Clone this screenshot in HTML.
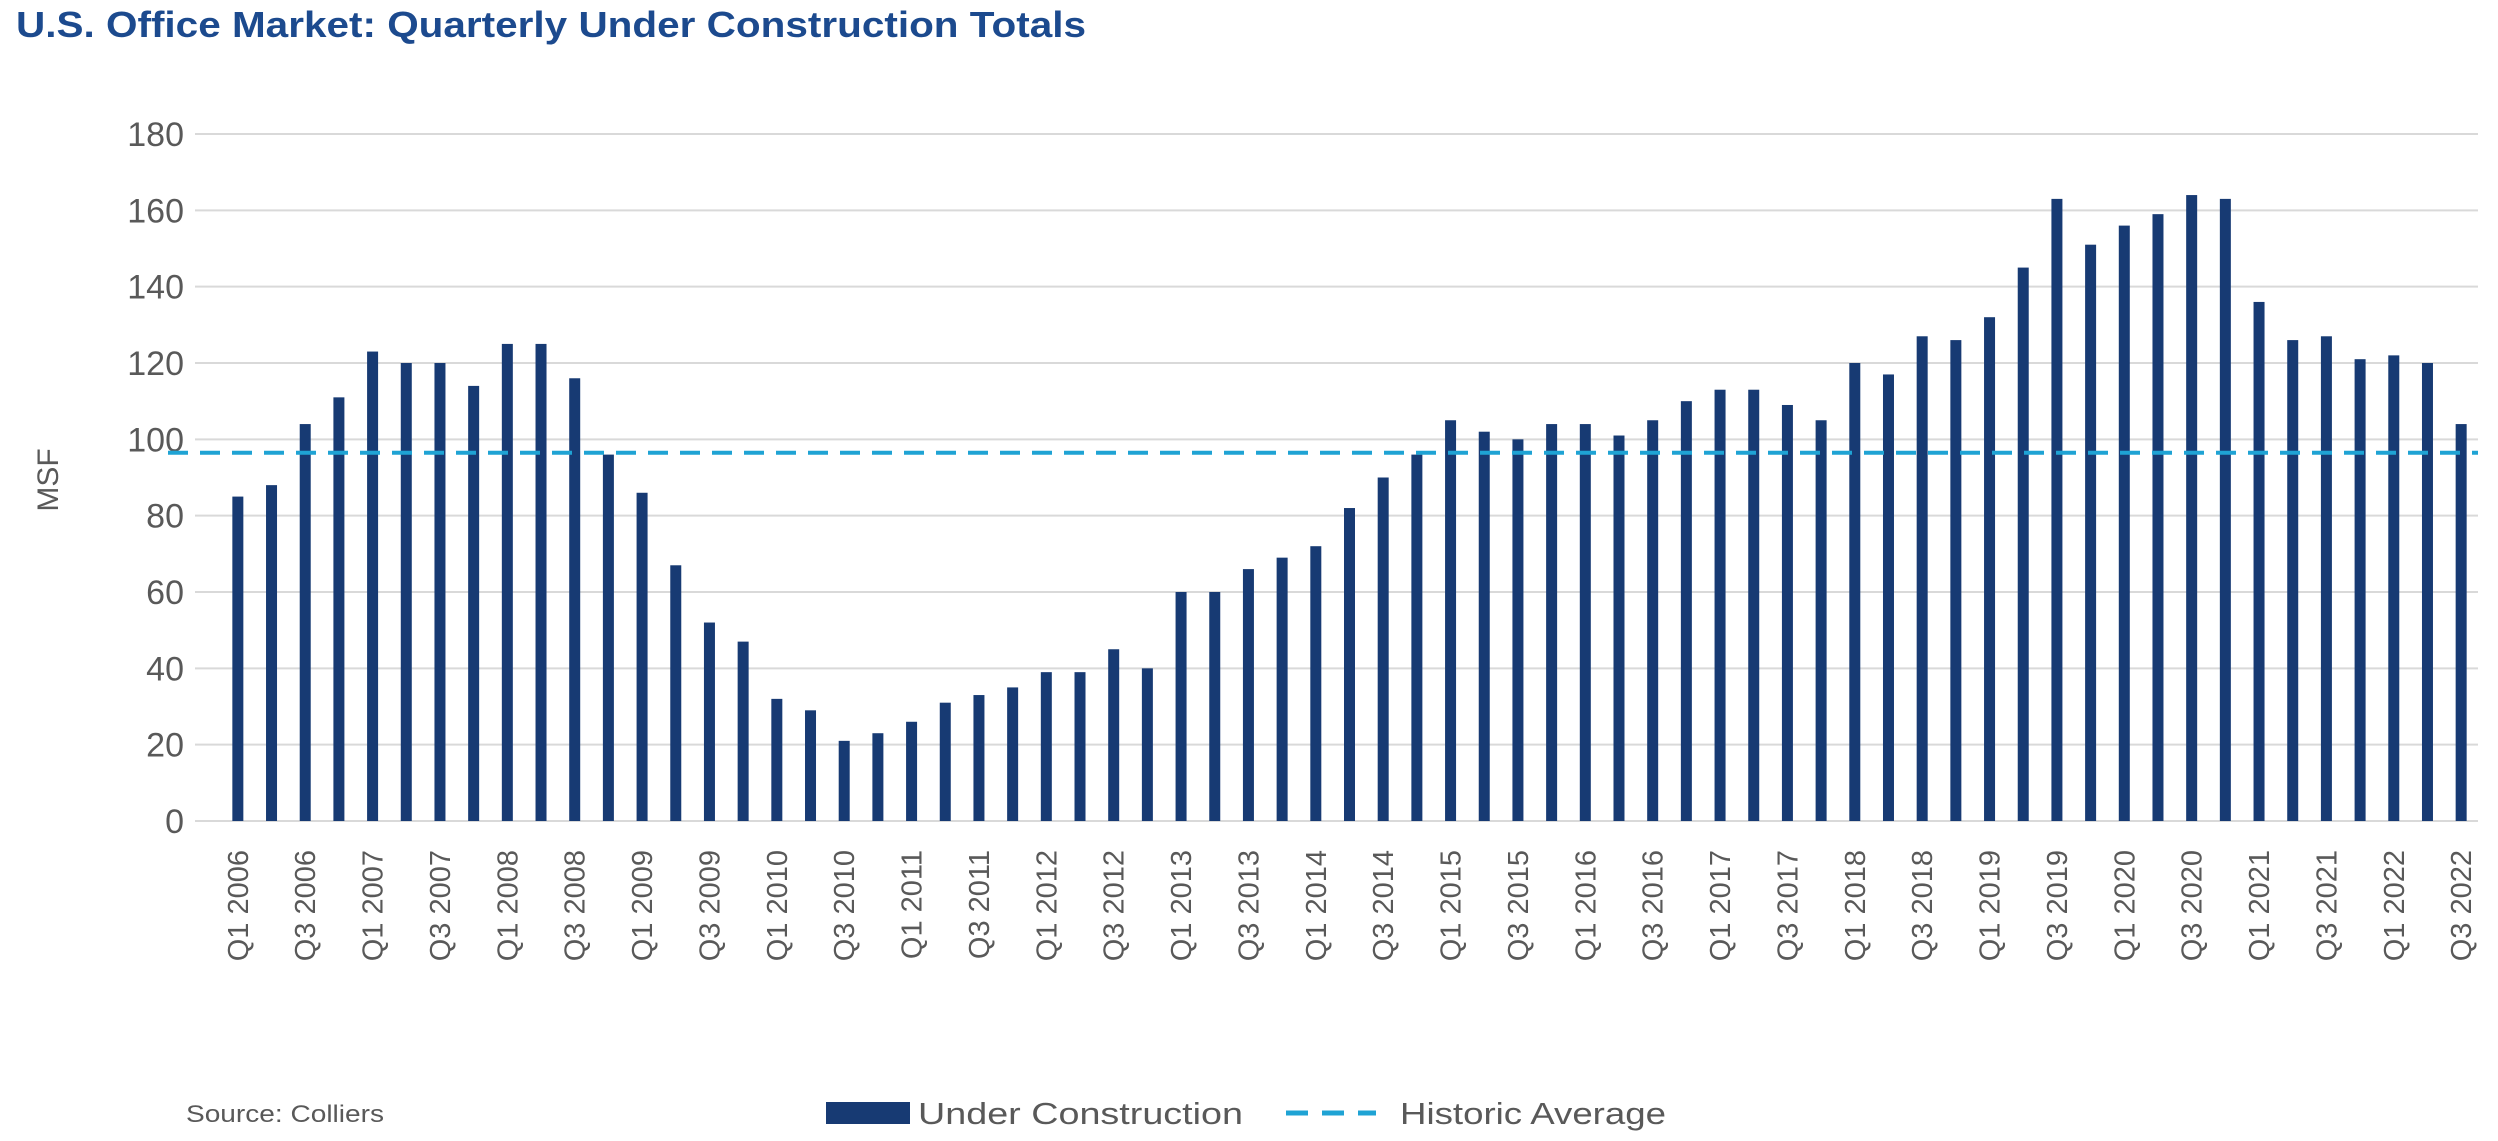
<!DOCTYPE html>
<html><head><meta charset="utf-8"><style>
html,body{margin:0;padding:0;background:#fff;}
body{width:2498px;height:1136px;overflow:hidden;position:relative;font-family:"Liberation Sans",sans-serif;}
</style></head><body>
<svg id="chart" width="2498" height="1136" xmlns="http://www.w3.org/2000/svg">
<text x="16" y="37" font-family="Liberation Sans, sans-serif" font-weight="bold" font-size="36" fill="#1c4a8e" textLength="1070" lengthAdjust="spacingAndGlyphs">U.S. Office Market: Quarterly Under Construction Totals</text>
<g id="grid"></g>
<g id="yticks"></g>
<text transform="translate(58,480) rotate(-90)" text-anchor="middle" font-size="30" fill="#595959">MSF</text>
<g id="bars"></g>
<g id="avg"></g>
<g id="xticks"></g>
<text x="186" y="1122" font-size="24" fill="#595959" textLength="198" lengthAdjust="spacingAndGlyphs">Source: Colliers</text>
<g>
<rect x="826" y="1102" width="84" height="22" fill="#173a73"/>
<text x="918" y="1124" font-size="31" fill="#595959" textLength="325" lengthAdjust="spacingAndGlyphs">Under Construction</text>
<line x1="1286" y1="1113" x2="1376" y2="1113" stroke="#1fa3d4" stroke-width="5" stroke-dasharray="22,14"/>
<text x="1400" y="1124" font-size="31" fill="#595959" textLength="266" lengthAdjust="spacingAndGlyphs">Historic Average</text>
</g>
</svg>
<script>
const quarters = ["Q1","Q2","Q3","Q4"];
const years = [2006,2007,2008,2009,2010,2011,2012,2013,2014,2015,2016,2017,2018,2019,2020,2021,2022];
const values = [85,88,104,111, 123,120,120,114, 125,125,116,96, 86,67,52,47, 32,29,21,23, 26,31,33,35, 39,39,45,40, 60,60,66,69, 72,82,90,96, 105,102,100,104, 104,101,105,110, 113,113,109,105, 120,117,127,126, 132,145,163,151, 156,159,164,163, 136,126,127,121, 122,120,104];
const historicAverage = 96.5;
const yTicks = [0,20,40,60,80,100,120,140,160,180];

const categories = [];
years.forEach(y => quarters.forEach(q => { if (categories.length < values.length) categories.push(q + " " + y); }));

const NS = "http://www.w3.org/2000/svg";
const L = 221, R = 2478, Y0 = 821, Y180 = 134, GL = 195;
const band = (R - L) / categories.length;
const xc = i => L + band * (i + 0.5);
const yv = v => Y0 - (v / 180) * (Y0 - Y180);
function mk(tag, attrs, parent){const e=document.createElementNS(NS,tag);for(const k in attrs)e.setAttribute(k,attrs[k]);parent.appendChild(e);return e;}

const grid = document.getElementById('grid'), yt = document.getElementById('yticks');
yTicks.forEach(t => {
  const ln = mk('line',{x1:GL,x2:R,y1:yv(t),y2:yv(t),stroke:'#d9d9d9','stroke-width':2},grid);
  
  
  const tx = mk('text',{x:184,y:yv(t)+12,'text-anchor':'end','font-size':34,fill:'#595959'},yt);
  
  
  tx.textContent = t;
});

const bars = document.getElementById('bars');
values.forEach((v,i) => {
  const w = 11;
  const r = mk('rect',{x:xc(i)-w/2,y:yv(v),width:w,height:Y0-yv(v),fill:'#173a73'},bars);
  
  
});

const avg = document.getElementById('avg');
const al = mk('line',{x1:168,x2:R,y1:yv(historicAverage),y2:yv(historicAverage),stroke:'#1fa3d4','stroke-width':4,'stroke-dasharray':'20,12'},avg);



const xt = document.getElementById('xticks');
categories.forEach((c,i) => {
  if (i % 2) return;
  const x = xc(i) + 10, y = 850;
  const t = mk('text',{transform:`translate(${x},${y}) rotate(-90)`,'text-anchor':'end','font-size':29,fill:'#595959'},xt);
  
  
  t.textContent = c;
});
</script>
</body></html>
